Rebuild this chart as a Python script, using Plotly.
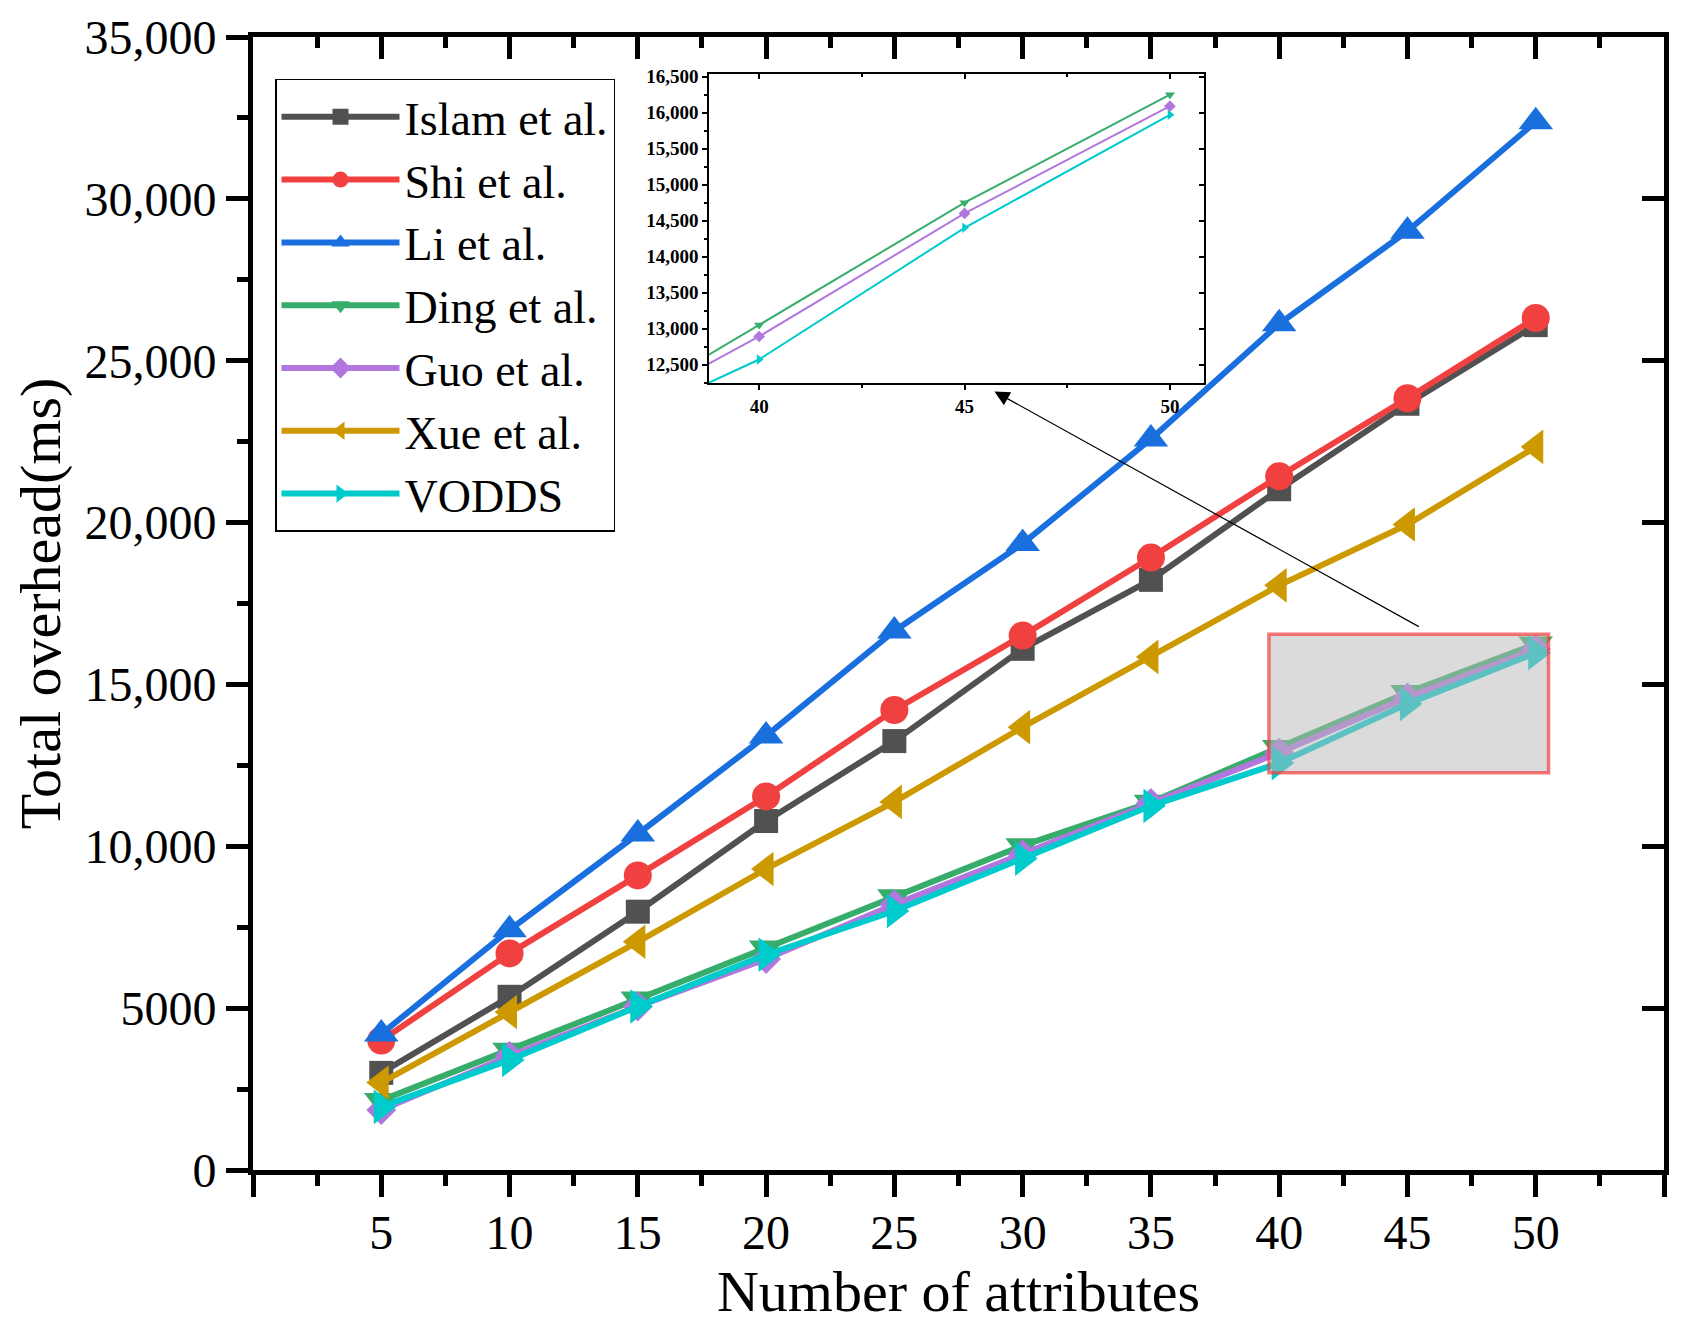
import plotly.graph_objects as go

attrs = [5, 10, 15, 20, 25, 30, 35, 40, 45, 50]
islam = [3000, 5350, 7980, 10780, 13250, 16100, 18230, 21030, 23670, 26100]
shi = [4000, 6690, 9100, 11540, 14210, 16510, 18920, 21430, 23840, 26320]
li = [4200, 7420, 10380, 13410, 16650, 19350, 22580, 26140, 29000, 32380]
ding = [2150, 3700, 5280, 6860, 8440, 10020, 11360, 13050, 14750, 16250]
guo = [1850, 3520, 5050, 6520, 8200, 9750, 11340, 12890, 14600, 16090]
xue = [2700, 4880, 7050, 9300, 11370, 13680, 15850, 18060, 19940, 22340]
vodds = [1950, 3400, 5050, 6650, 8000, 9620, 11250, 12570, 14400, 15970]

x_ticks = [0, 5, 10, 15, 20, 25, 30, 35, 40, 45, 50, 55]
x_ticktext = ["", "5", "10", "15", "20", "25", "30", "35", "40", "45", "50", ""]
y_ticks = [0, 5000, 10000, 15000, 20000, 25000, 30000, 35000]
y_ticktext = ["0", "5000", "10,000", "15,000", "20,000", "25,000", "30,000", "35,000"]

series = [
    ("Islam et al.", islam, "#515151", "square", 24),
    ("Shi et al.", shi, "#F14040", "circle", 28),
    ("Li et al.", li, "#1A6FDF", "triangle-up", 30),
    ("Ding et al.", ding, "#37AD6B", "triangle-down", 30),
    ("Guo et al.", guo, "#B177DE", "diamond", 23),
    ("Xue et al.", xue, "#CC9900", "triangle-left", 30),
    ("VODDS", vodds, "#00CBCC", "triangle-right", 30),
]
zoomed = ["Ding et al.", "Guo et al.", "VODDS"]

FONT = "Liberation Serif"

fig = go.Figure()

for name, vals, color, symbol, size in series:
    fig.add_trace(
        go.Scatter(
            x=attrs,
            y=vals,
            mode="lines+markers",
            name=name,
            line=dict(color=color, width=6),
            marker=dict(symbol=symbol, size=size, color=color),
        )
    )

# inset (zoom of 40-50)
for name, vals, color, symbol, size in series:
    if name not in zoomed:
        continue
    fig.add_trace(
        go.Scatter(
            x=attrs,
            y=vals,
            mode="lines+markers",
            name=name,
            showlegend=False,
            xaxis="x2",
            yaxis="y2",
            line=dict(color=color, width=2),
            marker=dict(symbol=symbol, size=9, color=color),
        )
    )

# empty traces so the mirror axes get drawn
fig.add_trace(go.Scatter(x=[], y=[], xaxis="x3", yaxis="y3", showlegend=False))
fig.add_trace(go.Scatter(x=[], y=[], xaxis="x4", yaxis="y4", showlegend=False))

main_x = dict(
    range=[0, 55],
    tickvals=x_ticks,
    ticktext=x_ticktext,
    ticks="outside",
    ticklen=22,
    tickwidth=5,
    tickcolor="black",
    ticklabelstandoff=-6,
    ticklabeloverflow="allow",
    automargin=False,
    showline=True,
    linewidth=5,
    linecolor="black",
    showgrid=False,
    zeroline=False,
    tickfont=dict(family=FONT, size=48, color="black"),
    minor=dict(ticks="outside", ticklen=11, tickwidth=5, tickcolor="black", dtick=2.5, tick0=0),
)
main_y = dict(
    range=[0, 35000],
    tickvals=y_ticks,
    ticktext=y_ticktext,
    ticks="outside",
    ticklen=22,
    tickwidth=5,
    tickcolor="black",
    ticklabeloverflow="allow",
    automargin=False,
    showline=True,
    linewidth=5,
    linecolor="black",
    showgrid=False,
    zeroline=False,
    tickfont=dict(family=FONT, size=48, color="black"),
    minor=dict(ticks="outside", ticklen=11, tickwidth=5, tickcolor="black", dtick=2500, tick0=0),
)

# page body has an 8px margin, so the plot box is set 8px up/left
fig.update_layout(
    width=1682,
    height=1335,
    margin=dict(l=245, r=26, t=29, b=173, autoexpand=False),
    paper_bgcolor="white",
    plot_bgcolor="white",
    font=dict(family=FONT, color="black"),
    xaxis=dict(
        main_x,
        domain=[0, 1],
        anchor="y",
        title=dict(text="Number of attributes", font=dict(family=FONT, size=58), standoff=14),
    ),
    yaxis=dict(
        main_y,
        domain=[0, 1],
        anchor="x",
        title=dict(text="Total overhead(ms)", font=dict(family=FONT, size=58), standoff=24),
    ),
    xaxis3=dict(
        range=[0, 55],
        overlaying="x",
        side="top",
        anchor="y3",
        tickvals=x_ticks,
        ticks="inside",
        ticklen=22,
        tickwidth=5,
        tickcolor="black",
        showticklabels=False,
        automargin=False,
        showline=True,
        linewidth=5,
        linecolor="black",
        showgrid=False,
        zeroline=False,
        minor=dict(ticks="inside", ticklen=11, tickwidth=5, tickcolor="black", dtick=2.5, tick0=0),
    ),
    yaxis3=dict(
        range=[0, 35000],
        overlaying="y",
        side="right",
        anchor="x3",
        tickvals=y_ticks,
        ticks="inside",
        ticklen=22,
        tickwidth=5,
        tickcolor="black",
        showticklabels=False,
        automargin=False,
        showline=True,
        linewidth=5,
        linecolor="black",
        showgrid=False,
        zeroline=False,
    ),
    xaxis2=dict(
        domain=[0.3232, 0.674],
        anchor="y2",
        range=[38.78, 50.83],
        tickvals=[40, 45, 50],
        ticks="outside",
        ticklen=5,
        tickwidth=1.5,
        tickcolor="black",
        automargin=False,
        showline=True,
        linewidth=1.5,
        linecolor="black",
        showgrid=False,
        zeroline=False,
        tickfont=dict(family=FONT, size=19, color="black", weight="bold"),
        minor=dict(ticks="outside", ticklen=3, tickwidth=1.5, tickcolor="black", dtick=2.5, tick0=0),
    ),
    yaxis2=dict(
        domain=[0.6942, 0.9675],
        anchor="x2",
        range=[12237, 16540],
        dtick=500,
        tick0=0,
        tickformat=",d",
        ticks="outside",
        ticklen=5,
        tickwidth=1.5,
        tickcolor="black",
        automargin=False,
        showline=True,
        linewidth=1.5,
        linecolor="black",
        showgrid=False,
        zeroline=False,
        tickfont=dict(family=FONT, size=19, color="black", weight="bold"),
        minor=dict(ticks="outside", ticklen=3, tickwidth=1.5, tickcolor="black", dtick=250, tick0=0),
    ),
    xaxis4=dict(
        range=[38.78, 50.83],
        overlaying="x2",
        side="top",
        anchor="y4",
        tickvals=[40, 45, 50],
        ticks="inside",
        ticklen=5,
        tickwidth=1.5,
        tickcolor="black",
        showticklabels=False,
        automargin=False,
        showline=True,
        linewidth=1.5,
        linecolor="black",
        showgrid=False,
        zeroline=False,
        minor=dict(ticks="inside", ticklen=3, tickwidth=1.5, tickcolor="black", dtick=2.5, tick0=0),
    ),
    yaxis4=dict(
        range=[12237, 16540],
        overlaying="y2",
        side="right",
        anchor="x4",
        dtick=500,
        tick0=0,
        ticks="inside",
        ticklen=5,
        tickwidth=1.5,
        tickcolor="black",
        showticklabels=False,
        automargin=False,
        showline=True,
        linewidth=1.5,
        linecolor="black",
        showgrid=False,
        zeroline=False,
    ),
    legend=dict(
        x=0.0156,
        y=0.963,
        xanchor="left",
        yanchor="top",
        bgcolor="white",
        bordercolor="black",
        borderwidth=1.5,
        font=dict(family=FONT, size=46, color="black"),
        tracegroupgap=0,
        itemwidth=118,
    ),
    showlegend=True,
)

# highlighted region
fig.add_shape(
    type="rect",
    xref="x",
    yref="y",
    x0=39.6,
    x1=50.5,
    y0=12270,
    y1=16550,
    fillcolor="rgba(184,184,184,0.5)",
    line=dict(color="rgba(241,64,64,0.7)", width=3.5),
    layer="above",
)

fig.add_annotation(
    xref="x",
    yref="y",
    axref="x",
    ayref="y",
    x=28.9,
    y=24050,
    ax=45.5,
    ay=16760,
    text="",
    showarrow=True,
    arrowhead=2,
    arrowsize=2.5,
    arrowwidth=1.2,
    arrowcolor="black",
)

fig.write_html("out.html")
